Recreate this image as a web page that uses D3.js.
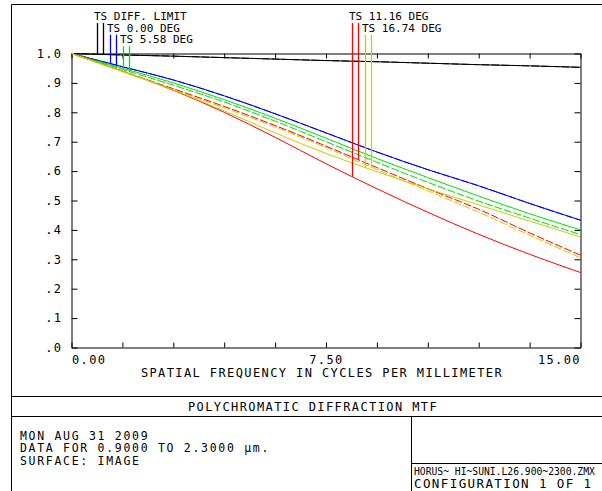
<!DOCTYPE html>
<html><head><meta charset="utf-8">
<script src="https://cdn.jsdelivr.net/npm/d3@7"></script>
<style>
html,body{margin:0;padding:0;background:#fff;}
svg{display:block;}
text{font-family:"DejaVu Sans Mono",monospace;fill:#000;}
</style></head>
<body>
<svg id="c" width="602" height="491"></svg>
<script>
// ---- data ----
const freqs = [0, 1.5, 3, 4.5, 6, 7.5, 9, 10.5, 12, 13.5, 15];
const diffT = [1.0, 0.995, 0.991, 0.986, 0.981, 0.976, 0.972, 0.967, 0.962, 0.958, 0.953];
const diffS = [1.0, 0.995, 0.991, 0.986, 0.981, 0.976, 0.972, 0.967, 0.962, 0.958, 0.953];
const f0T   = [1.0, 0.955, 0.910, 0.856, 0.795, 0.730, 0.665, 0.605, 0.550, 0.490, 0.433];
const f0S   = [1.0, 0.955, 0.910, 0.856, 0.795, 0.730, 0.665, 0.605, 0.550, 0.490, 0.433];
const f558T = [1.0, 0.950, 0.900, 0.843, 0.780, 0.712, 0.643, 0.578, 0.515, 0.455, 0.400];
const f558S = [1.0, 0.946, 0.892, 0.835, 0.770, 0.700, 0.630, 0.562, 0.498, 0.440, 0.384];
const f1116T = [1.0, 0.940, 0.875, 0.800, 0.715, 0.625, 0.540, 0.460, 0.385, 0.317, 0.255];
const f1116S = [1.0, 0.940, 0.880, 0.820, 0.755, 0.685, 0.612, 0.540, 0.470, 0.390, 0.314];
const f1674T = [1.0, 0.940, 0.876, 0.805, 0.730, 0.660, 0.598, 0.540, 0.485, 0.430, 0.376];
const f1674S = [1.0, 0.938, 0.877, 0.815, 0.750, 0.680, 0.605, 0.533, 0.460, 0.382, 0.305];

const legendLabels = ["TS DIFF. LIMIT", "TS 0.00 DEG", "TS 5.58 DEG", "TS 11.16 DEG", "TS 16.74 DEG"];
const yTicks = [0, 0.1, 0.2, 0.3, 0.4, 0.5, 0.6, 0.7, 0.8, 0.9, 1.0];
const yTickLabels = [".0", ".1", ".2", ".3", ".4", ".5", ".6", ".7", ".8", ".9", "1.0"];
const xTicks = [0, 1.5, 3, 4.5, 6, 7.5, 9, 10.5, 12, 13.5, 15];
const xTickLabels = ["0.00", "", "", "", "", "7.50", "", "", "", "", "15.00"];

// ---- layout ----
const svg = d3.select("#c");
const L = 71.5, R = 580.5, T = 53.5, B = 347.5;
const x = d3.scaleLinear().domain([0, 15]).range([L, R]);
const y = d3.scaleLinear().domain([0, 1]).range([B, T]);

// outer frame
const frame = svg.append("g").attr("stroke", "#000").attr("stroke-width", 1).attr("fill", "none");
frame.append("line").attr("x1", 11.5).attr("x2", 602).attr("y1", 4.5).attr("y2", 4.5);
frame.append("line").attr("x1", 11.5).attr("x2", 11.5).attr("y1", 4.5).attr("y2", 491);
frame.append("line").attr("x1", 11.5).attr("x2", 602).attr("y1", 396.5).attr("y2", 396.5);
frame.append("line").attr("x1", 11.5).attr("x2", 602).attr("y1", 416.5).attr("y2", 416.5);
frame.append("line").attr("x1", 411.5).attr("x2", 411.5).attr("y1", 416.5).attr("y2", 491);
frame.append("line").attr("x1", 411.5).attr("x2", 602).attr("y1", 463.5).attr("y2", 463.5);

// axes
const fs = 12, ls = 1.4;
function styleAxis(g) {
  g.select(".domain").attr("stroke", "#000").attr("stroke-width", 1);
  g.selectAll(".tick line").attr("stroke", "#000");
  g.selectAll("text").attr("font-family", "DejaVu Sans Mono").attr("font-size", fs)
    .attr("letter-spacing", ls).attr("fill", "#000");
}
svg.append("g").attr("transform", `translate(${L},0)`)
  .call(d3.axisLeft(y).tickValues(yTicks).tickSize(-6).tickSizeOuter(0).tickPadding(9)
    .tickFormat((d, i) => yTickLabels[i]))
  .call(styleAxis);
svg.append("g").attr("transform", `translate(${R},0)`)
  .call(d3.axisRight(y).tickValues(yTicks).tickSize(-6).tickSizeOuter(0).tickFormat(""))
  .call(styleAxis);
svg.append("g").attr("transform", `translate(0,${T})`)
  .call(d3.axisTop(x).tickValues(xTicks).tickSize(-5).tickSizeOuter(0).tickFormat(""))
  .call(styleAxis);
const xb = svg.append("g").attr("transform", `translate(0,${B})`)
  .call(d3.axisBottom(x).tickValues(xTicks).tickSize(-5).tickSizeOuter(0).tickPadding(8)
    .tickFormat((d, i) => xTickLabels[i]))
  .call(styleAxis);
xb.selectAll(".tick text").attr("text-anchor", (d, i) => i === 0 ? "start" : (i === xTicks.length - 1 ? "end" : "middle"));

// curves
const series = [
  { v: diffT, c: "#000000", dash: null },
  { v: diffS, c: "#000000", dash: "8,2" },
  { v: f0T, c: "#0000ff", dash: null },
  { v: f0S, c: "#0000ff", dash: "8,2" },
  { v: f558T, c: "#00e000", dash: null },
  { v: f558S, c: "#00e000", dash: "8,2" },
  { v: f1116T, c: "#ff0000", dash: null },
  { v: f1116S, c: "#ff0000", dash: "8,2" },
  { v: f1674T, c: "#cccc00", dash: null },
  { v: f1674S, c: "#cccc00", dash: "8,2" }
];
const line = d3.line().x((d, i) => x(freqs[i])).y(d => y(d)).curve(d3.curveMonotoneX);
svg.append("g").selectAll("path").data(series).join("path")
  .attr("d", s => line(s.v)).attr("fill", "none").attr("stroke", s => s.c)
  .attr("stroke-width", 1).attr("stroke-dasharray", s => s.dash);

// legend
const interp = (arr, f) => {
  const i = Math.min(freqs.length - 2, Math.floor(f / 1.5));
  const t = (f - freqs[i]) / (freqs[i + 1] - freqs[i]);
  return arr[i] + (arr[i + 1] - arr[i]) * t;
};
const legendPos = [
  { lx: 94, row: 0, s: [0, 1] },
  { lx: 107, row: 1, s: [2, 3] },
  { lx: 120, row: 2, s: [4, 5] },
  { lx: 349, row: 0, s: [6, 7] },
  { lx: 362, row: 1, s: [8, 9] }
];
const rowBase = [20, 31.7, 43.3];
const lg = svg.append("g");
legendPos.forEach((p, k) => {
  lg.append("text").attr("x", p.lx).attr("y", rowBase[p.row]).attr("font-size", 11)
    .text(legendLabels[k]);
  p.s.forEach((si, j) => {
    const xx = Math.round(p.lx + 2.5 + j * 6.5) + 0.5;
    const f = x.invert(xx);
    lg.append("line").attr("x1", xx).attr("x2", xx)
      .attr("y1", rowBase[p.row] + 3).attr("y2", y(interp(series[si].v, f)))
      .attr("stroke", series[si].c).attr("stroke-width", 1.3);
  });
});

// texts
const txt = (s, xx, yy, anchor, size, spacing) => svg.append("text").attr("x", xx).attr("y", yy)
  .attr("text-anchor", anchor).attr("font-size", size).attr("letter-spacing", spacing).text(s);
txt("SPATIAL FREQUENCY IN CYCLES PER MILLIMETER", 322, 377, "middle", fs, ls);
txt("POLYCHROMATIC DIFFRACTION MTF", 313, 411, "middle", fs, ls);
txt("MON AUG 31 2009", 20, 439.5, "start", 11.5, 1.7);
txt("DATA FOR 0.9000 TO 2.3000 µm.", 20, 452, "start", 11.5, 1.7);
txt("SURFACE: IMAGE", 20, 464.5, "start", 11.5, 1.7);
txt("HORUS~ HI~SUNI.L26.900~2300.ZMX", 414, 475, "start", 9.7, 0);
txt("CONFIGURATION 1 OF 1", 414, 487.5, "start", 12.5, 1.4);
</script>
</body></html>
